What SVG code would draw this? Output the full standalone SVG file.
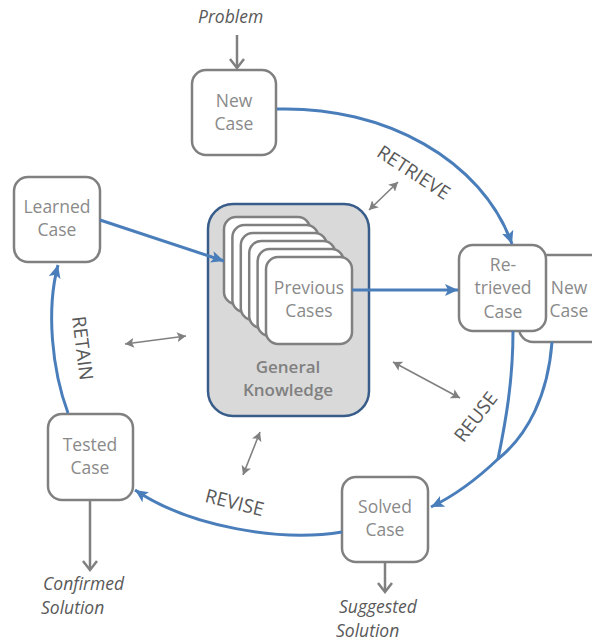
<svg xmlns="http://www.w3.org/2000/svg" width="592" height="641" viewBox="0 0 592 641">
  <style>
    .box { fill: #ffffff; stroke: #808080; stroke-width: 2.5; }
    .lbl { font-family: "Open Sans", "Noto Sans", sans-serif; font-size: 17.5px; fill: #8a8a8a; text-anchor: middle; }
    .gk { font-family: "Open Sans", "Noto Sans", sans-serif; font-size: 17px; font-weight: 600; fill: #808080; text-anchor: middle; }
    .io { font-family: "Open Sans", "Noto Sans", sans-serif; font-size: 17.5px; font-style: italic; fill: #595959; }
    .step { font-family: "Open Sans", "Noto Sans", sans-serif; font-size: 19px; fill: #595959; text-anchor: middle; }
    .flow { fill: none; stroke: #4a7ebb; stroke-width: 3; }
    .out { fill: none; stroke: #808080; stroke-width: 2.5; }
    .link { fill: none; stroke: #808080; stroke-width: 1.6; }
  </style>
  <defs>
    <marker id="blueHead" markerUnits="userSpaceOnUse" markerWidth="14" markerHeight="12" refX="13" refY="6" orient="auto">
      <path d="M0,0 L13,6 L0,12 L3,6 Z" fill="#4a7ebb"/>
    </marker>
    <marker id="chevron" markerUnits="userSpaceOnUse" markerWidth="16" markerHeight="16" refX="12" refY="8" orient="auto">
      <path d="M3,1 L12,8 L3,15" fill="none" stroke="#808080" stroke-width="2.5"/>
    </marker>
    <marker id="tipEnd" markerUnits="userSpaceOnUse" markerWidth="10" markerHeight="10" refX="9" refY="5" orient="auto">
      <path d="M0,0 L9,5 L0,10 L2,5 Z" fill="#808080"/>
    </marker>
    <marker id="tipStart" markerUnits="userSpaceOnUse" markerWidth="10" markerHeight="10" refX="1" refY="5" orient="auto">
      <path d="M10,0 L1,5 L10,10 L8,5 Z" fill="#808080"/>
    </marker>
  </defs>

  <!-- knowledge base with stacked previous cases -->
  <g id="general-knowledge">
    <rect x="208" y="204" width="161" height="212" rx="25" fill="#d9d9d9" stroke="#385d8a" stroke-width="2.5"/>
    <text class="gk" x="288" y="373">General</text>
    <text class="gk" x="288" y="396">Knowledge</text>
  </g>
  <g id="previous-cases">
    <rect class="box" x="224" y="217" width="86" height="87" rx="12"/>
    <rect class="box" x="232.4" y="225" width="86" height="87" rx="12"/>
    <rect class="box" x="240.8" y="233" width="86" height="87" rx="12"/>
    <rect class="box" x="249.2" y="241" width="86" height="87" rx="12"/>
    <rect class="box" x="257.6" y="249" width="86" height="87" rx="12"/>
    <rect class="box" x="266" y="257" width="86" height="87" rx="12"/>
    <text class="lbl" x="309" y="294">Previous</text>
    <text class="lbl" x="309" y="317">Cases</text>
  </g>

  <g id="new-case">
    <rect class="box" x="192" y="70" width="84" height="85" rx="14"/>
    <text class="lbl" x="234" y="107">New</text>
    <text class="lbl" x="234" y="130">Case</text>
  </g>

  <g id="new-case-copy">
    <rect class="box" x="519" y="255" width="100" height="87" rx="14"/>
    <text class="lbl" x="569" y="294">New</text>
    <text class="lbl" x="569" y="317">Case</text>
  </g>

  <g id="retrieved-case">
    <rect class="box" x="459" y="245" width="87" height="86" rx="14"/>
    <text class="lbl" x="503" y="271">Re-</text>
    <text class="lbl" x="503" y="294">trieved</text>
    <text class="lbl" x="503" y="318">Case</text>
  </g>

  <g id="learned-case">
    <rect class="box" x="14" y="177" width="86" height="85" rx="14"/>
    <text class="lbl" x="57" y="213">Learned</text>
    <text class="lbl" x="57" y="236">Case</text>
  </g>

  <g id="tested-case">
    <rect class="box" x="48" y="414" width="85" height="86" rx="14"/>
    <text class="lbl" x="90" y="451">Tested</text>
    <text class="lbl" x="90" y="474">Case</text>
  </g>

  <g id="solved-case">
    <rect class="box" x="342" y="477" width="86" height="85" rx="14"/>
    <text class="lbl" x="385" y="513">Solved</text>
    <text class="lbl" x="385" y="536">Case</text>
  </g>

  <!-- inputs and outputs -->
  <g id="io-labels">
    <text class="io" x="198" y="23">Problem</text>
    <text class="io" x="339" y="613">Suggested</text>
    <text class="io" x="336" y="637">Solution</text>
    <text class="io" x="43" y="590">Confirmed</text>
    <text class="io" x="41" y="614">Solution</text>
  </g>

  <!-- step labels -->
  <g id="step-labels">
    <text class="step" transform="translate(410,178) rotate(33)">RETRIEVE</text>
    <text class="step" transform="translate(76,349) rotate(83)">RETAIN</text>
    <text class="step" transform="translate(481,421) rotate(-52)">REUSE</text>
    <text class="step" transform="translate(233,509) rotate(14)">REVISE</text>
  </g>

  <g id="connectors">
    <!-- cycle -->
    <path class="flow" d="M277,109 C385,106 482,160 512,244" marker-end="url(#blueHead)"/>
    <path class="flow" d="M352,290 L458,290" marker-end="url(#blueHead)"/>
    <path class="flow" d="M100,220 L224,261" marker-end="url(#blueHead)"/>
    <path class="flow" d="M513,331 C513,380 506,420 498,459"/>
    <path class="flow" d="M552,342 C548,395 528,435 498,459 C478,478 458,494 431,507" marker-end="url(#blueHead)"/>
    <path class="flow" d="M342,532 C280,542 190,527 135,490" marker-end="url(#blueHead)"/>
    <path class="flow" d="M68,413 C52,370 46,310 58,265" marker-end="url(#blueHead)"/>
    <!-- problem in, solutions out -->
    <path class="out" d="M237,35 L237,68" marker-end="url(#chevron)"/>
    <path class="out" d="M385,562 L385,592" marker-end="url(#chevron)"/>
    <path class="out" d="M90,500 L90,570" marker-end="url(#chevron)"/>
    <!-- exchange with general knowledge -->
    <path class="link" d="M369,210 L398,182" marker-start="url(#tipStart)" marker-end="url(#tipEnd)"/>
    <path class="link" d="M125,344 L186,336" marker-start="url(#tipStart)" marker-end="url(#tipEnd)"/>
    <path class="link" d="M393,362 L460,398" marker-start="url(#tipStart)" marker-end="url(#tipEnd)"/>
    <path class="link" d="M260,432 L243,475" marker-start="url(#tipStart)" marker-end="url(#tipEnd)"/>
  </g>
</svg>
